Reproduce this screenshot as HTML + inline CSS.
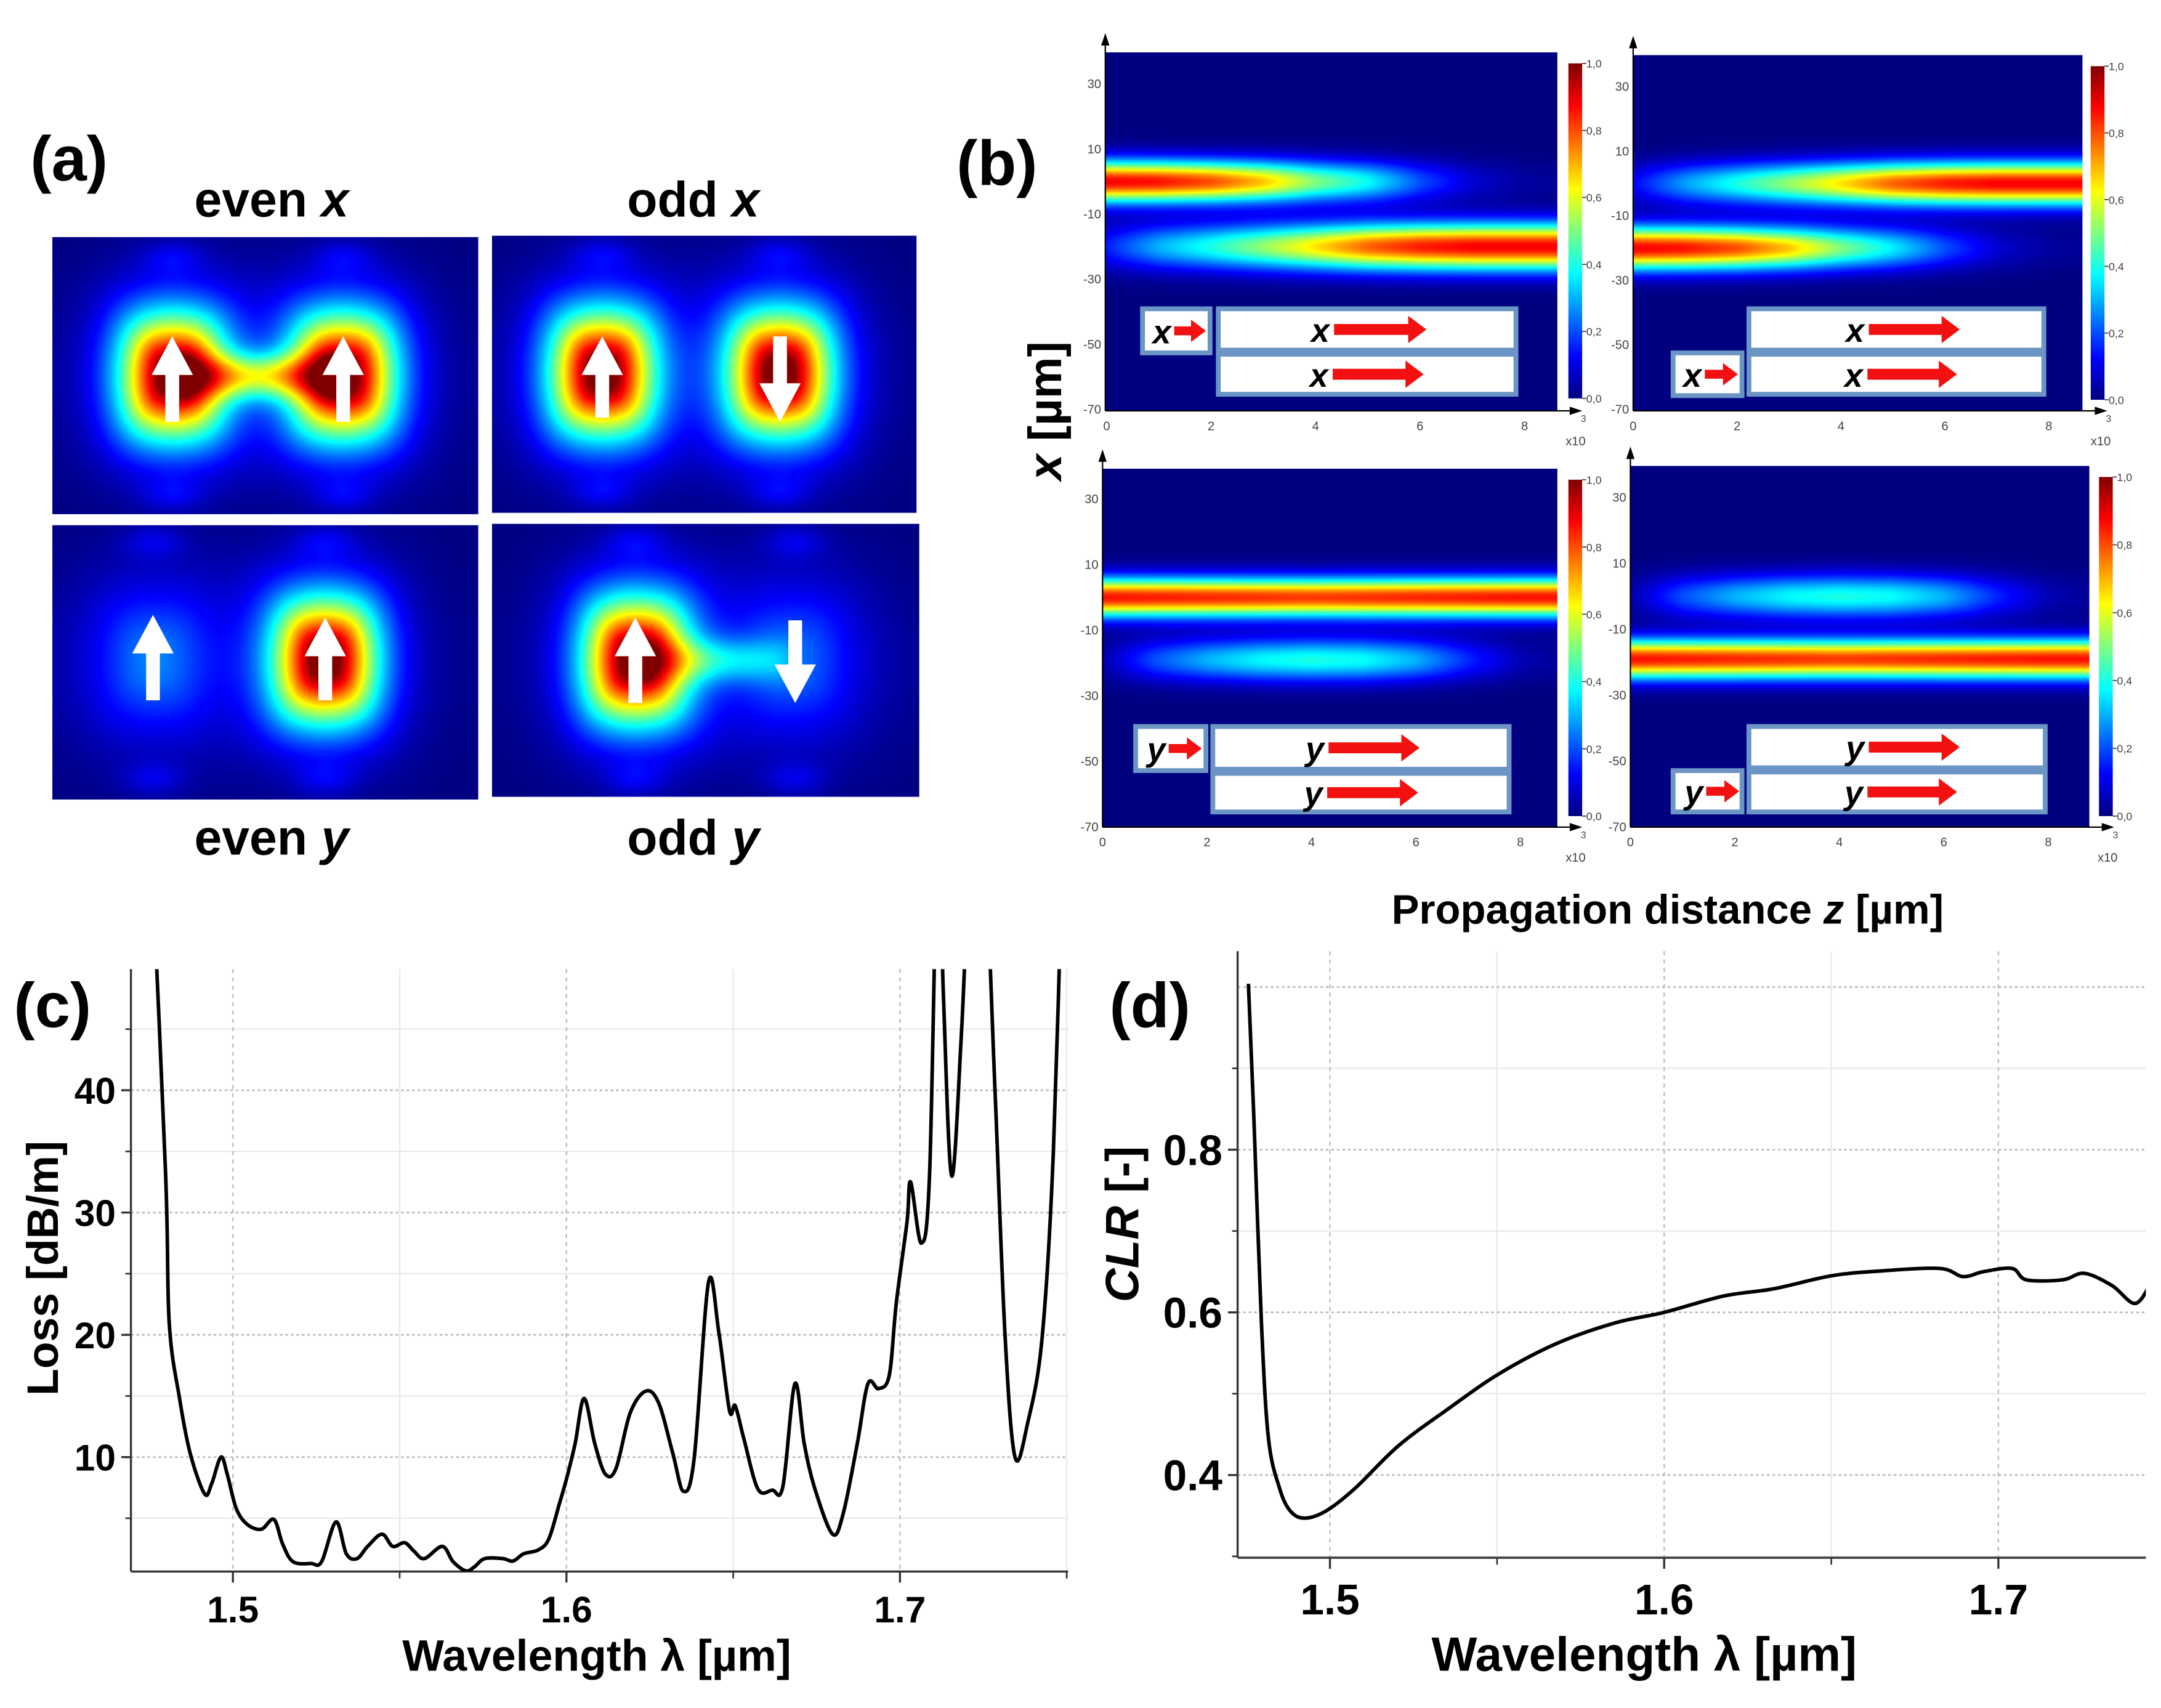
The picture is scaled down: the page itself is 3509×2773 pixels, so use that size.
<!DOCTYPE html>
<html><head><meta charset="utf-8">
<style>
html,body{margin:0;padding:0;background:#fff;width:3509px;height:2773px;overflow:hidden}
#root{position:absolute;left:0;top:0;width:1568px;height:1239px;transform:scale(2.23788,2.23810);transform-origin:0 0}
canvas{position:absolute}
svg{position:absolute;left:0;top:0}
text{font-family:"Liberation Sans",Arial,sans-serif}
</style></head>
<body>
<div id="root">
<canvas id="m0"></canvas>
<canvas id="m1"></canvas>
<canvas id="m2"></canvas>
<canvas id="m3"></canvas>
<canvas id="h0"></canvas>
<canvas id="h1"></canvas>
<canvas id="h2"></canvas>
<canvas id="h3"></canvas>
<svg id="svg" width="1568" height="1239" viewBox="0 0 1568 1239">
<defs>
<linearGradient id="jet" x1="0" y1="1" x2="0" y2="0">
<stop offset="0" stop-color="#00007f"/><stop offset="0.125" stop-color="#0000ff"/>
<stop offset="0.375" stop-color="#00ffff"/><stop offset="0.625" stop-color="#ffff00"/><stop offset="0.875" stop-color="#ff0000"/><stop offset="1" stop-color="#7f0000"/>
</linearGradient>
<clipPath id="clipC"><rect x="95" y="703" width="680" height="437"/></clipPath>
<clipPath id="clipD"><rect x="898" y="690" width="659" height="440"/></clipPath>
</defs>
<g id="gF"></g><g id="gA"></g><g id="gB"></g><g id="gC"></g><g id="gD"></g>
</svg>
</div>
<script>
// ---------- data arrays ----------
const lossWl  = [1.4755,1.4798,1.4809,1.484,1.4872,1.4915,1.4936,1.4964,1.4983,1.501,1.5043,1.5085,1.5123,1.5149,1.518,1.5234,1.5266,1.5309,1.534,1.5372,1.5404,1.5447,1.5479,1.5515,1.5543,1.5574,1.5628,1.566,1.5698,1.5723,1.5755,1.5809,1.584,1.5872,1.5915,1.5947,1.5979,1.6,1.6026,1.6053,1.6085,1.6117,1.6149,1.6191,1.6238,1.6277,1.6319,1.6351,1.6383,1.6426,1.6457,1.6489,1.6506,1.6532,1.6574,1.6617,1.6649,1.6685,1.6713,1.6745,1.6798,1.683,1.6872,1.6904,1.6936,1.6968,1.6989,1.7021,1.7032,1.7064,1.7089,1.7114,1.7130,1.7155,1.7185,1.7215,1.7250,1.7285,1.7315,1.7345,1.7383,1.7426,1.7460,1.7490];
const lossVal = [60,33.3,21,14.8,10.3,7.0,7.8,10,8.6,5.8,4.5,4.1,4.9,2.9,1.45,1.3,1.45,4.7,2.1,1.7,2.7,3.7,2.7,3.0,2.3,1.7,2.7,1.45,0.7,1.0,1.7,1.7,1.5,2.1,2.4,3.3,6.2,8.2,11.1,14.8,11.1,8.6,9.1,13.6,15.4,14.4,10.3,7.2,9.9,24.3,20.2,13.8,14.2,11.5,7.4,7.3,7.6,16.0,11.1,7.4,3.7,5.4,11.1,16,15.6,16.7,22.6,29.2,32.5,27.5,33.3,62,48,33,45,62,62,40,20,10,12.8,19.7,35,62];
const clrWl  = [1.4756,1.4773,1.4795,1.4816,1.4849,1.4881,1.4924,1.4989,1.5076,1.5205,1.5356,1.5508,1.568,1.5853,1.6,1.6177,1.6328,1.6501,1.6652,1.6825,1.6894,1.6955,1.7041,1.7084,1.7192,1.7257,1.7340,1.7410,1.7460];
const clrVal = [1.004,0.832,0.587,0.445,0.384,0.356,0.347,0.356,0.384,0.436,0.482,0.525,0.562,0.587,0.6,0.62,0.629,0.645,0.651,0.654,0.644,0.65,0.654,0.64,0.64,0.648,0.633,0.611,0.639];
const lossYTicks = [10,20,30,40];
const clrYTicks  = [0.4,0.6,0.8];
const wlTicks    = [1.5,1.6,1.7];
// heatmap band amplitudes sampled at z = 0..9 (x10^3 um)
const ampTLup  = [0.88,0.86,0.8,0.68,0.5,0.38,0.2,0.08,0.03,0.02];
const ampTLlow = [0.15,0.3,0.4,0.52,0.65,0.78,0.85,0.88,0.88,0.88];
const ampTRup  = [0.12,0.28,0.4,0.52,0.65,0.78,0.85,0.88,0.88,0.88];
const ampTRlow = [0.88,0.86,0.8,0.68,0.5,0.36,0.2,0.08,0.03,0.02];
const ampStrong= [0.86,0.85,0.84,0.83,0.82,0.83,0.84,0.85,0.86,0.86];
const ampWeak  = [0.04,0.2,0.3,0.37,0.4,0.38,0.3,0.16,0.05,0.02];
const hmXTicks = [0,2,4,6,8];
const hmYTicks = [30,10,-10,-30,-50,-70];
const cbTicks  = ["1,0","0,8","0,6","0,4","0,2","0,0"];

const S = 3509/1568;
const NS = "http://www.w3.org/2000/svg";
function sq(a){return a*a;}
function el(tag, attrs, parent, txt){const e=document.createElementNS(NS,tag);for(const k in attrs)e.setAttribute(k,attrs[k]);if(txt!==undefined)e.textContent=txt;parent.appendChild(e);return e;}
function jet(v){v=Math.max(0,Math.min(1,v));
  const r=Math.max(0,Math.min(1,1.5-Math.abs(4*v-3))),g=Math.max(0,Math.min(1,1.5-Math.abs(4*v-2))),b=Math.max(0,Math.min(1,1.5-Math.abs(4*v-1)));
  return [Math.round(r*255),Math.round(g*255),Math.round(b*255)];}
const gF=document.getElementById('gF');
function drawField(id,x,y,w,h,fn,name){
  const c=document.getElementById(id);
  let ok=false;
  try{
    c.style.left=x+'px';c.style.top=y+'px';c.style.width=w+'px';c.style.height=h+'px';
    const cw=Math.round(w*S/1.5),ch=Math.round(h*S/1.5);
    c.width=cw;c.height=ch;
    const ctx=c.getContext('2d');
    if(ctx){
      const img=ctx.createImageData(cw,ch),d=img.data;
      for(let j=0;j<ch;j++)for(let i=0;i<cw;i++){
        const col=jet(fn(x+(i+0.5)*w/cw,y+(j+0.5)*h/ch)),k=(j*cw+i)*4;
        d[k]=col[0];d[k+1]=col[1];d[k+2]=col[2];d[k+3]=255;}
      ctx.putImageData(img,0,0);ok=true;}
  }catch(e){ok=false;}
  if(!ok){
    c.style.display='none';
    const g=el('g',{'shape-rendering':'crispEdges'},gF);
    
    
    const st=2;
    for(let Y=y;Y<y+h;Y+=st){
      let runX=x,runC=null;
      for(let X=x;X<=x+w;X+=st){
        let key=null;
        if(X<x+w){const col=jet(fn(X+st/2,Y+st/2));key='rgb('+(col[0]>>3<<3)+','+(col[1]>>3<<3)+','+(col[2]>>3<<3)+')';}
        if(key!==runC){
          if(runC!==null)el('rect',{x:runX,y:Y,width:Math.min(X,x+w)-runX+0.3,height:Math.min(st,y+h-Y)+0.3,fill:runC},g);
          runC=key;runX=X;}
      }
    }
  }
}

// ---------- (a) mode fields ----------
const panels=[
 {id:'m0',x:38,y:172,w:309,h:201,lobes:[[87,101,1],[211,101,1]],neck:[87,211,101,0.4],name:'mode-even-x'},
 {id:'m1',x:357,y:171,w:308,h:201,lobes:[[80,100,1],[209,100,1]],neck:null,name:'mode-odd-x'},
 {id:'m2',x:38,y:381,w:309,h:199,lobes:[[73,98,0.17],[198,98,1]],neck:null,name:'mode-even-y'},
 {id:'m3',x:357,y:380,w:310,h:198,lobes:[[104,99,1],[220,99,0.15]],neck:[104,220,99,0.22],name:'mode-odd-y'}];
panels.forEach(function(p){
  try{
  drawField(p.id,p.x,p.y,p.w,p.h,function(AX,AY){
    const X=AX-p.x,Y=AY-p.y;let v=0.0;
    p.lobes.forEach(function(lb){
      const cx=lb[0],cy=lb[1],a=lb[2];
      const dx=(X-cx)/(a<0.5?40:38),dy=(Y-cy)/(a<0.5?50:46);
      const rho=Math.pow(dx*dx*dx*dx+dy*dy*dy*dy,0.25);
      const rr=Math.sqrt(dx*dx+dy*dy);
      const r=0.5*rho+0.5*rr;
      v+=a*Math.exp(-Math.pow(r,1.9)*1.05);
      v+=0.08*Math.exp(-(sq((X-cx)/75)+sq((Y-cy)/70)));
      v+=0.08*Math.exp(-(sq((X-cx)/22)+sq((Y-cy+86)/12)))+0.08*Math.exp(-(sq((X-cx)/22)+sq((Y-cy-86)/12)));
    });
    if(p.neck){const x1=p.neck[0],x2=p.neck[1],cy=p.neck[2],a=p.neck[3];if(X>x1&&X<x2){v+=a*Math.exp(-sq((Y-cy)/16))*Math.pow(Math.sin(Math.PI*(X-x1)/(x2-x1)),0.6);}}
    return Math.min(v,1);
  },p.name);
  }catch(e){}
});

// ---------- (b) heatmaps ----------
const hms=[
 {id:'h0',x:802,y:38,w:328,h:260,z0:803,zs:37.9,x30:61,x70:297,bands:[[0,ampTLup,6.3],[-20,ampTLlow,7]]},
 {id:'h1',x:1185,y:40,w:326,h:258,z0:1185,zs:37.7,x30:63,x70:297,bands:[[0,ampTRup,6.5],[-20,ampTRlow,6.5]]},
 {id:'h2',x:800,y:340,w:330,h:260,z0:800,zs:37.9,x30:362,x70:600,bands:[[0,ampStrong,5.8],[-19,ampWeak,6.5]]},
 {id:'h3',x:1183,y:338,w:333,h:262,z0:1183,zs:37.9,x30:361,x70:600,bands:[[0,ampWeak,6.5],[-19,ampStrong,5.8]]}];
function interp(arr,z){z=Math.max(0,Math.min(arr.length-1.001,z));const i=Math.floor(z),f=z-i;return arr[i]*(1-f)+arr[i+1]*f;}
hms.forEach(function(p,idx){
  try{
  const ppu=(p.x70-p.x30)/100;
  drawField(p.id,p.x,p.y,p.w,p.h,function(X,Y){
    const xv=30-(Y-p.x30)/ppu,z=(X-p.z0)/p.zs;let v=0;
    p.bands.forEach(function(b){v+=interp(b[1],z)*Math.exp(-sq((xv-b[0])/b[2]));});
    return v;
  },'heatmap-'+idx);
  }catch(e){}
});

const gA=document.getElementById('gA'),gB=document.getElementById('gB'),gC=document.getElementById('gC'),gD=document.getElementById('gD');
let t;
try{
t=el('text',{x:22,y:131,'font-size':46,'font-weight':'bold'},gA,'(a)');


[['even ',197,157,'x','title-even-x'],['odd ',503,157,'x','title-odd-x'],['even ',197,620,'y','title-even-y'],['odd ',503,620,'y','title-odd-y']].forEach(function(a){
  const tt=el('text',{x:a[1],y:a[2],'font-size':36,'font-weight':'bold','text-anchor':'middle'},gA);
  
  
  el('tspan',{},tt,a[0]);el('tspan',{'font-style':'italic'},tt,a[3]);
});
}catch(e){}
function wArrow(x,yTip,yTail,parent,name){
  const dir=yTail>yTip?1:-1,hl=28*dir;
  const pts=[[x,yTip],[x+15,yTip+hl],[x+5,yTip+hl],[x+5,yTail],[x-5,yTail],[x-5,yTip+hl],[x-15,yTip+hl]].map(function(q){return q.join(',');}).join(' ');
  const a=el('polygon',{points:pts,fill:'#fff'},parent);
  
  
}
wArrow(125,244,306,gA,'arrow-even-x-left');wArrow(249,244,306,gA,'arrow-even-x-right');
wArrow(437,244,303,gA,'arrow-odd-x-left');wArrow(566,306,244,gA,'arrow-odd-x-right');
wArrow(111,446,508,gA,'arrow-even-y-left');wArrow(236,448,508,gA,'arrow-even-y-right');
wArrow(461,448,510,gA,'arrow-odd-y-left');wArrow(577,510,450,gA,'arrow-odd-y-right');

try{
t=el('text',{x:694,y:134,'font-size':46,'font-weight':'bold'},gB,'(b)');


t=el('text',{x:0,y:0,'font-size':34,'font-weight':'bold','text-anchor':'middle',transform:'translate(770,298) rotate(-90)'},gB);


el('tspan',{'font-style':'italic'},t,'x');el('tspan',{},t,' [µm]');
t=el('text',{x:1210,y:670,'font-size':30,'font-weight':'bold','text-anchor':'middle'},gB);


el('tspan',{},t,'Propagation distance ');el('tspan',{'font-style':'italic'},t,'z');el('tspan',{},t,' [µm]');
}catch(e){}
const cbs=[[1138,46,289],[1517,48,290],[1138,348,592],[1523,346,592]];
hms.forEach(function(p,idx){
  const g=el('g',{},gB);
  
  
  const bot=p.y+p.h,L=p.x;
  el('line',{x1:L,y1:bot,x2:L,y2:p.y-8,stroke:'#000','stroke-width':1},g);
  el('polygon',{points:L+','+(p.y-14)+' '+(L-3)+','+(p.y-5)+' '+(L+3)+','+(p.y-5),fill:'#000'},g);
  el('line',{x1:L,y1:bot,x2:L+p.w+12,y2:bot,stroke:'#000','stroke-width':1},g);
  el('polygon',{points:(L+p.w+18)+','+bot+' '+(L+p.w+9)+','+(bot-3)+' '+(L+p.w+9)+','+(bot+3),fill:'#000'},g);
  const ppu=(p.x70-p.x30)/100;
  hmYTicks.forEach(function(v){const yy=p.x30+(30-v)*ppu;el('text',{x:L-3,y:yy+3,'font-size':9,'text-anchor':'end',fill:'#444'},g,String(v));});
  hmXTicks.forEach(function(v){el('text',{x:p.z0+v*p.zs,y:bot+14,'font-size':9,'text-anchor':'middle',fill:'#444'},g,String(v));});
  el('text',{x:L+p.w+6,y:bot+25,'font-size':9,fill:'#444'},g,'x10');
  el('text',{x:L+p.w+17,y:bot+8,'font-size':7,fill:'#444'},g,'3');
  const cx=cbs[idx][0],ct=cbs[idx][1],cbm=cbs[idx][2];
  const cb=el('rect',{x:cx,y:ct,width:10,height:cbm-ct,fill:'url(#jet)'},g);
  
  
  cbTicks.forEach(function(s,i){const yy=ct+(cbm-ct)*i/5;el('line',{x1:cx+10,y1:yy,x2:cx+13,y2:yy,stroke:'#444','stroke-width':0.8},g);el('text',{x:cx+13,y:yy+3,'font-size':8,fill:'#444'},g,s);});
});
function redArrow(x1,x2,y,parent,sz){
  const hw=sz*0.45,sh=sz*0.18,hl=sz*0.6;
  const pts=[[x1,y-sh],[x2-hl,y-sh],[x2-hl,y-hw],[x2,y],[x2-hl,y+hw],[x2-hl,y+sh],[x1,y+sh]].map(function(q){return q.join(',');}).join(' ');
  el('polygon',{points:pts,fill:'#f21010'},parent);
}
function box(x,y,w,h,letter,txtX,a1,a2,sz,name){
  const g=el('g',{},gB);
  
  
  el('rect',{x:x,y:y,width:w,height:h,fill:'#fff',stroke:'#6a95c4','stroke-width':3.5},g);
  el('text',{x:txtX,y:y+h/2+9,'font-size':24,'font-weight':'bold','font-style':'italic','text-anchor':'middle'},g,letter);
  redArrow(a1,a2,y+h/2,g,sz);
}
box(829,224,49,32,'x',843,852,875,18,'inset-input-x-tl');
box(884,224,216,30,'x',958,968,1035,22,'inset-wg-top-tl');
box(884,257,216,29,'x',957,967,1033,22,'inset-wg-bottom-tl');
box(1269,224,214,30,'x',1346,1356,1422,22,'inset-wg-top-tr');
box(1269,257,214,29,'x',1345,1355,1420,22,'inset-wg-bottom-tr');
box(1214,256,50,31,'x',1228,1237,1261,18,'inset-input-x-tr');
box(824,527,51,32,'y',839,848,872,18,'inset-input-y-bl');
box(880,527,215,31,'y',954,964,1030,22,'inset-wg-top-bl');
box(880,561,215,28,'y',953,963,1029,22,'inset-wg-bottom-bl');
box(1269,527,215,30,'y',1346,1356,1422,22,'inset-wg-top-br');
box(1269,560,215,29,'y',1345,1355,1420,22,'inset-wg-bottom-br');
box(1214,559,50,30,'y',1229,1238,1262,18,'inset-input-y-br');

// ---------- line charts ----------
function smoothPath(xs,ys){let d='M'+xs[0]+','+ys[0];
  for(let i=0;i<xs.length-1;i++){const x0=xs[Math.max(0,i-1)],y0=ys[Math.max(0,i-1)],x1=xs[i],y1=ys[i],x2=xs[i+1],y2=ys[i+1],x3=xs[Math.min(xs.length-1,i+2)],y3=ys[Math.min(xs.length-1,i+2)];
    const k=1/6;d+=' C'+(x1+(x2-x0)*k)+','+(y1+(y2-y0)*k)+' '+(x2-(x3-x1)*k)+','+(y2-(y3-y1)*k)+' '+x2+','+y2;}
  return d;}
function chart(g,cfg){
  const L=cfg.L,R=cfg.R,T=cfg.T,B=cfg.B,xs=cfg.xs,ys=cfg.ys,tickFs=cfg.tickFs;
  cfg.xMinor.forEach(function(v){el('line',{x1:xs(v),y1:T,x2:xs(v),y2:B,stroke:'#e8e8e8','stroke-width':1},g);});
  cfg.yMinor.forEach(function(v){el('line',{x1:L,y1:ys(v),x2:R,y2:ys(v),stroke:'#e8e8e8','stroke-width':1},g);});
  wlTicks.forEach(function(v){el('line',{x1:xs(v),y1:T,x2:xs(v),y2:B,stroke:'#bbb','stroke-width':1,'stroke-dasharray':'3,3'},g);});
  cfg.yGrid.forEach(function(v){el('line',{x1:L,y1:ys(v),x2:R,y2:ys(v),stroke:'#bbb','stroke-width':1.2,'stroke-dasharray':'2,2'},g);});
  el('line',{x1:L,y1:T,x2:L,y2:B,stroke:'#333','stroke-width':1.5},g);
  el('line',{x1:L,y1:B,x2:R,y2:B,stroke:'#333','stroke-width':1.5},g);
  wlTicks.forEach(function(v){el('line',{x1:xs(v),y1:B,x2:xs(v),y2:B+8,stroke:'#333','stroke-width':1.5},g);
    const tx=el('text',{x:xs(v),y:B+cfg.xLabDy,'font-size':tickFs,'font-weight':'bold','text-anchor':'middle'},g,v.toFixed(1));
    
    });
  cfg.xMinor.forEach(function(v){el('line',{x1:xs(v),y1:B,x2:xs(v),y2:B+5,stroke:'#333','stroke-width':1.2},g);});
  cfg.yTicks.forEach(function(v){el('line',{x1:L,y1:ys(v),x2:L-7,y2:ys(v),stroke:'#333','stroke-width':1.5},g);
    const ty=el('text',{x:L-11,y:ys(v)+tickFs*0.36,'font-size':tickFs,'font-weight':'bold','text-anchor':'end'},g,cfg.yFmt(v));
    
    });
  cfg.yMinor.forEach(function(v){el('line',{x1:L,y1:ys(v),x2:L-4,y2:ys(v),stroke:'#333','stroke-width':1.2},g);});
  const line=el('path',{d:smoothPath(cfg.dx.map(xs),cfg.dy.map(ys)),fill:'none',stroke:'#000','stroke-width':2.6,'clip-path':cfg.clip},g);
  
  
}
const xsC=function(v){return 169+(v-1.5)*2420;}, ysC=function(v){return 1057-(v-10)*8.87;};
chart(gC,{L:95,R:775,T:703,B:1140,xs:xsC,ys:ysC,xMinor:[1.55,1.65,1.75],yMinor:[5,15,25,35,45],yTicks:lossYTicks,yGrid:lossYTicks,yFmt:function(v){return String(v);},tickFs:27,xLabDy:37,clip:'url(#clipC)',dx:lossWl,dy:lossVal,lineName:'loss-curve'});
t=el('text',{x:10,y:745,'font-size':46,'font-weight':'bold'},gC,'(c)');


t=el('text',{x:433,y:1212,'font-size':32,'font-weight':'bold','text-anchor':'middle'},gC,'Wavelength λ [µm]');


t=el('text',{x:0,y:0,'font-size':32,'font-weight':'bold','text-anchor':'middle',transform:'translate(42,920) rotate(-90)'},gC,'Loss [dB/m]');


const xsD=function(v){return 965+(v-1.5)*2425;}, ysD=function(v){return 952-(v-0.6)*590;};
chart(gD,{L:898,R:1557,T:690,B:1130,xs:xsD,ys:ysD,xMinor:[1.55,1.65],yMinor:[0.3,0.5,0.7,0.9],yTicks:clrYTicks,yGrid:[0.4,0.6,0.8,1.0],yFmt:function(v){return v.toFixed(1);},tickFs:31,xLabDy:41,clip:'url(#clipD)',dx:clrWl,dy:clrVal,lineName:'clr-curve'});
t=el('text',{x:805,y:745,'font-size':46,'font-weight':'bold'},gD,'(d)');


t=el('text',{x:1193,y:1212,'font-size':35,'font-weight':'bold','text-anchor':'middle'},gD,'Wavelength λ [µm]');


t=el('text',{x:0,y:0,'font-size':34,'font-weight':'bold','text-anchor':'middle',transform:'translate(826,888) rotate(-90)'},gD);


el('tspan',{'font-style':'italic'},t,'CLR');el('tspan',{},t,' [-]');
</script>
</body></html>
